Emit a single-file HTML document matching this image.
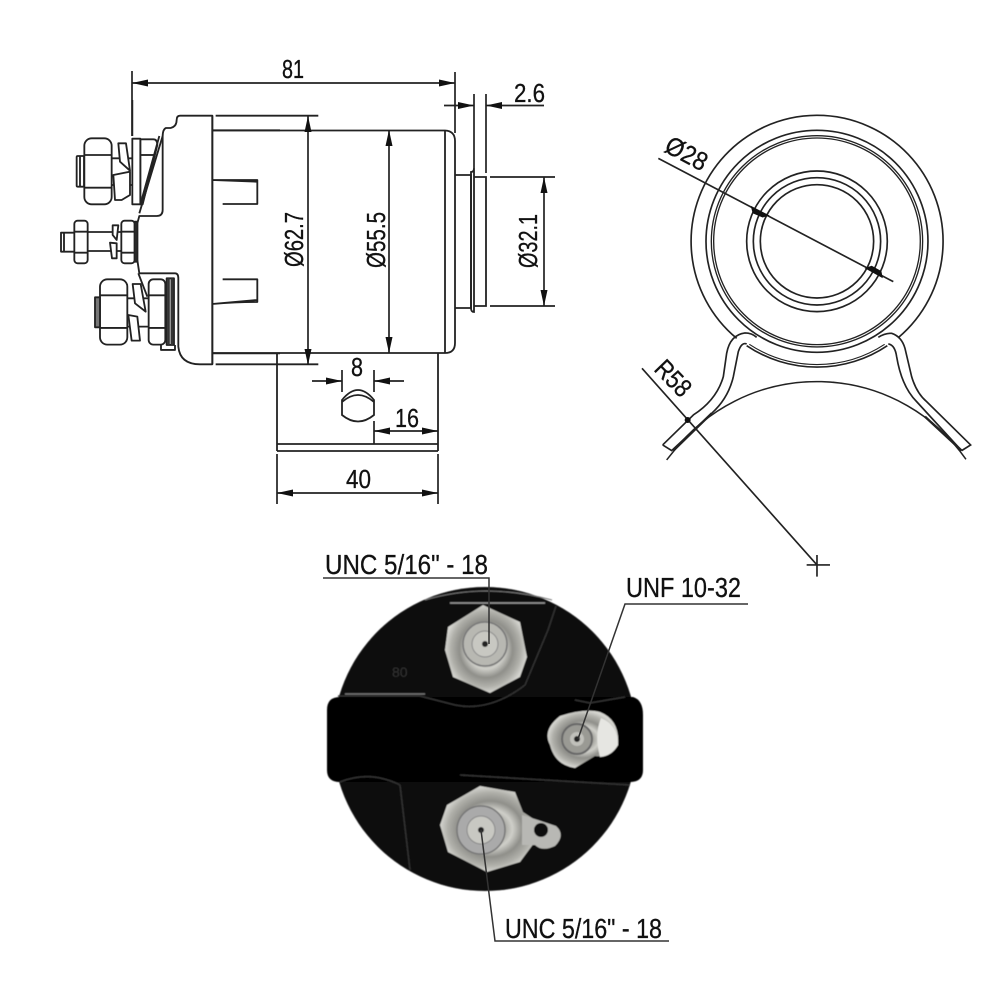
<!DOCTYPE html>
<html><head><meta charset="utf-8"><style>html,body{margin:0;padding:0;background:#fff}svg{display:block}text{font-family:"Liberation Sans Narrow","Liberation Sans",sans-serif;fill:#111;stroke:#111;stroke-width:.3px;font-size:26px}</style></head><body>
<svg width="1000" height="1000" viewBox="0 0 1000 1000" xmlns="http://www.w3.org/2000/svg">
<defs>
<marker id="a" viewBox="0 0 16 7" refX="16" refY="3.5" markerWidth="16" markerHeight="7" markerUnits="userSpaceOnUse" orient="auto-start-reverse"><path d="M0 0L16 3.500L0 7z" fill="#111"/></marker>
<radialGradient id="m" cx=".5" cy=".5" r=".5"><stop offset="0" stop-color="#ddd"/><stop offset=".3" stop-color="#a8a8a2"/><stop offset=".45" stop-color="#cfcfc9"/><stop offset=".65" stop-color="#8f8f8a"/><stop offset=".85" stop-color="#b0b0aa"/><stop offset="1" stop-color="#d5d5d0"/></radialGradient>
<filter id="b"><feGaussianBlur stdDeviation=".6"/></filter>
</defs>
<rect width="1000" height="1000" fill="#fff"/>

<!-- Side view: left part drawn in 3x coordinates -->
<g transform="translate(50,100) scale(.3333)" fill="none" stroke="#222" stroke-width="5.500" stroke-linejoin="round">
<path d="M247 0V108"/>
<path d="M487 47H390Q380 47 380 60Q380 80 362 84H348Q338 88 338 110V330Q338 348 320 348H268L262 370V480L268 520L375 520Q385 520 385 535V740Q390 793 450 793H487Z" fill="#fff"/>
<path d="M487 47V793M497 47H805M487 91H690M497 793H805M487 760H690M487 240H622V312H518M487 612Q560 606 622 606V538H518M486 240L620 245M486 612L620 600" />
<!-- Top nut -->
<path d="M271 118H310Q322 118 322 135L278 313H271Z" fill="#fff"/>
<path d="M271 165H312"/>
<path d="M338 108L268 340M328 108L272 310"/>
<rect x="103" y="115" width="82" height="198" rx="22" fill="#fff"/><path d="M103 165H185M103 263H185"/><rect x="80" y="168" width="22" height="92" rx="3" fill="#fff"/><path d="M90 168V260"/>
<path d="M185 175H245M185 255H245"/>
<path d="M205 130H228L240 212L210 185ZM190 225L240 215V285L215 300H195Z" fill="#fff"/>
<rect x="247" y="116" width="24" height="197" fill="#fff"/>
<!-- Middle nut -->
<path d="M33 398H75V455H33ZM42 398V455" fill="#fff"/>
<rect x="73" y="362" width="40" height="128" rx="10" fill="#fff"/><path d="M73 395H113M73 458H113"/>
<path d="M113 396H215M113 453H215"/>
<path d="M188 376H205L200 420L188 405ZM180 428L200 430V475H186Z" fill="#fff"/>
<rect x="214" y="362" width="40" height="128" rx="10" fill="#fff"/><path d="M214 395H254M214 458H254"/>
<path d="M254 365H262V485H254Z" fill="#333"/>
<!-- Bottom nut -->
<rect x="150" y="538" width="82" height="196" rx="22" fill="#fff"/><path d="M150 586H232M150 684H232"/><rect x="135" y="592" width="15" height="90" fill="#777"/>
<path d="M232 595H295M232 680H295"/>
<path d="M248 552H272L287 635L255 610ZM235 645L262 650L270 722H245Z" fill="#fff"/>
<rect x="296" y="538" width="50" height="196" rx="14" fill="#fff"/><path d="M296 586H346M296 684H346"/>
<path d="M265 520L292 590"/>
<path d="M350 535H372V735H350Z" fill="#999"/><path d="M356 535V735M366 535V735" stroke-width="6" stroke="#333"/><path d="M333 735V750H375V735"/>
</g>

<!-- Side view: right part -->
<g fill="none" stroke="#222" stroke-width="1.800">
<path d="M212 130.500H445Q455 131 455 141V343Q455 353 445 353H212"/>
<path d="M445 131V353"/>
<path d="M455 175H471V308H455" />
<path d="M471 172Q474 172 474 168V312Q471 312 471 308Z"/>
<path d="M474 177H486V306H474"/>
<path d="M277 353V451M438 353V451M277 444H438M277 451H438" />
<path d="M342 400Q358 380 374 400V415Q358 428 342 415ZM342 402Q358 388 374 402"/>
</g>

<!-- Dimensions -->
<g fill="none" stroke="#222" stroke-width="1.700">
<path d="M132 71V136M455 72V133M474 94V168M486 94V173M490 177H555M490 306H555M342 370V392M374 370V392M374 421V444M277 454V504M438 454V504"/>
<path d="M132 83H455" marker-start="url(#a)" marker-end="url(#a)"/>
<path d="M308 116V365" marker-start="url(#a)" marker-end="url(#a)"/>
<path d="M389 130V353" marker-start="url(#a)" marker-end="url(#a)"/>
<path d="M544 177V306" marker-start="url(#a)" marker-end="url(#a)"/>
<path d="M444 105.500H474" marker-end="url(#a)"/>
<path d="M544 105.500H486" marker-end="url(#a)"/>
<path d="M312 381H342" marker-end="url(#a)"/>
<path d="M404 381H374" marker-end="url(#a)"/>
<path d="M374 431H438" marker-start="url(#a)" marker-end="url(#a)"/>
<path d="M277 493H438" marker-start="url(#a)" marker-end="url(#a)"/>
</g>
<text x="282" y="78" textLength="22" lengthAdjust="spacingAndGlyphs">81</text>
<text x="514" y="102" textLength="31" lengthAdjust="spacingAndGlyphs">2.6</text>
<text x="351" y="376" textLength="12" lengthAdjust="spacingAndGlyphs">8</text>
<text x="395" y="427" textLength="24" lengthAdjust="spacingAndGlyphs">16</text>
<text x="346" y="488" textLength="25" lengthAdjust="spacingAndGlyphs">40</text>
<text transform="translate(303,267) rotate(-90)" textLength="55" lengthAdjust="spacingAndGlyphs">Ø62.7</text>
<text transform="translate(385,268) rotate(-90)" textLength="56" lengthAdjust="spacingAndGlyphs">Ø55.5</text>
<text transform="translate(537,268) rotate(-90)" textLength="54" lengthAdjust="spacingAndGlyphs">Ø32.1</text>

<!-- End view in 3x coordinates -->
<g transform="translate(630,100) scale(.3333)" fill="none" stroke="#222" stroke-width="5">
<path d="M320 715A378 378 0 1 1 805 713"/>
<circle cx="561" cy="424" r="333"/><circle cx="561" cy="424" r="317" stroke-width="4"/><circle cx="561" cy="424" r="310" stroke-width="4"/>
<circle cx="561" cy="424" r="211"/><circle cx="561" cy="424" r="191"/><circle cx="561" cy="424" r="170"/>
<path d="M98 1035L190 945Q260 900 280 830L290 760Q300 705 345 699Q365 699 380 712M745 712Q765 699 785 700Q815 710 825 745L845 830Q860 880 890 905L1022 1035L995 1052" fill="none"/>
<path d="M98 1035L125 1052L245 940Q295 895 310 830L325 755Q335 725 350 732M775 732Q795 735 800 770Q815 860 860 905L995 1052"/>
<path d="M350 737A378 378 0 0 0 772 737"/>
<path d="M358 733A370 370 0 0 0 764 733" stroke-width="3.500"/>
<path d="M110 1080L130 1055A546 546 0 0 1 1008 1078" stroke-width="4.500"/>
<path d="M130 1052L245 940M885 950L995 1052" stroke-width="7"/>
<path d="M85 175L790 545M36 805L561 1395M530 1395H600M561 1365V1430"/>
<path d="M366 322L412 346L398 350L370 338ZM755 530L710 505L725 500L752 515Z" fill="#111" stroke="#111"/>
<circle cx="173" cy="960" r="9" fill="#111" stroke="none"/>
</g>
<text transform="translate(663,151) rotate(28)" textLength="44" lengthAdjust="spacingAndGlyphs">Ø28</text>
<text transform="translate(653,370) rotate(46)" textLength="40" lengthAdjust="spacingAndGlyphs">R58</text>

<!-- Photo -->
<g filter="url(#b)">
<circle cx="485" cy="739" r="152" fill="#0a0a0a"/>
<path d="M340 697H633Q643 700 643 715V770Q643 782 630 782H340Q327 782 327 770V710Q327 697 340 697Z" fill="#050505"/>
<path d="M338 696H420L455 705Q490 712 525 685L548 630L556 606M575 700L590 703L625 697M340 782Q370 770 400 785M460 775L630 785M400 785L410 870" fill="none" stroke="#333" stroke-width="1.500"/>
<path d="M450 603H545" stroke="#999" stroke-width="1.500"/>
<path d="M345 694H425" stroke="#777" stroke-width="1.500"/>
<path d="M425 600Q485 582 552 600" stroke="#777" stroke-width="1" fill="none"/>
<path d="M483 605L520 622L527 657L520 677L490 693L453 677L445 650L448 627Z" fill="url(#m)"/>
<circle cx="485" cy="644" r="22" fill="#b8b8b2" stroke="#777" stroke-width="1.500"/><circle cx="485" cy="644" r="13" fill="#c8c8c2" stroke="#888"/><circle cx="485" cy="644" r="3" fill="#222"/>
<path d="M550 745Q542 730 560 716Q585 708 600 712Q620 720 618 745Q610 758 595 756L575 768Q555 765 550 745Z" fill="url(#m)"/>
<circle cx="577" cy="739" r="15" fill="#9a9a94" stroke="#666" stroke-width="2"/><circle cx="577" cy="739" r="7" fill="#c0c0ba"/><circle cx="577" cy="739" r="3" fill="#222"/>
<path d="M601 718Q618 725 618 745Q612 756 600 757Q594 735 601 718Z" fill="#e6e6e2"/>
<path d="M480 786L515 792L523 812L535 820L540 835L520 862L487 872L448 852L440 825L447 805Z" fill="url(#m)"/>
<circle cx="481" cy="830" r="24" fill="#aaa" stroke="#777" stroke-width="1.500"/><circle cx="481" cy="830" r="14" fill="#c8c8c2" stroke="#888"/><circle cx="481" cy="830" r="3" fill="#222"/>
<path d="M522 815L538 820L556 826Q566 835 555 846Q542 852 535 845L522 845Z" fill="#b8b8b4"/>
<circle cx="541" cy="830" r="7" fill="#111"/>
<text x="392" y="677" style="font-size:14px;fill:#333;stroke:none">80</text>
</g>

<!-- Leader lines & labels -->
<g fill="none" stroke="#333" stroke-width="1.500">
<path d="M323 578H489V644"/>
<path d="M748 604H625L578 739"/>
<path d="M481 830L495 941H669"/>
</g>
<text x="325" y="574" textLength="163" lengthAdjust="spacingAndGlyphs" style="font-size:28px">UNC 5/16" - 18</text>
<text x="626" y="597" textLength="115" lengthAdjust="spacingAndGlyphs" style="font-size:28px">UNF 10-32</text>
<text x="505" y="938" textLength="157" lengthAdjust="spacingAndGlyphs" style="font-size:28px">UNC 5/16" - 18</text>
</svg>
</body></html>
